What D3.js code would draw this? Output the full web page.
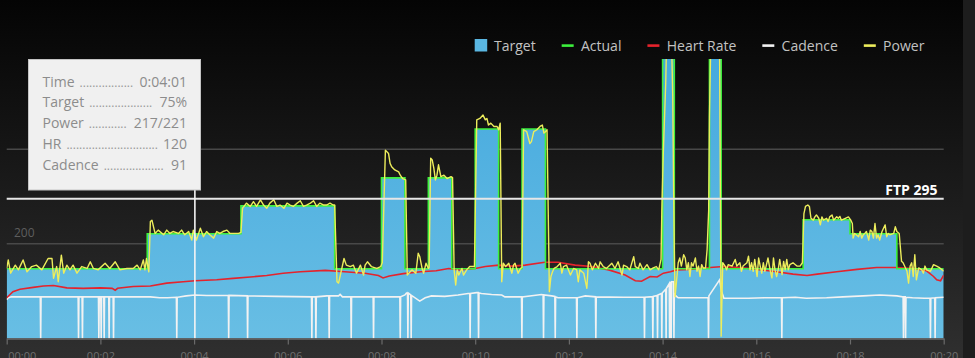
<!DOCTYPE html>
<html><head><meta charset="utf-8">
<script src="https://cdn.jsdelivr.net/npm/d3@7"></script>
<style>
html,body{margin:0;padding:0;background:#000;overflow:hidden;}
svg{display:block;}
</style></head>
<body>
<svg id="chart" width="975" height="358"></svg>
<script>
// ---------------- DATA ----------------
const ftp = 295;
const workoutEnd = 1200; // seconds
// target steps: start time (s) and % of FTP
const stepStart = [0,180,300,420,480,510,540,570,600,630,660,690,840,855,900,915,1020,1080,1140];
const stepPct   = [50,75,95,50,115,50,115,50,150,50,150,50,250,50,250,50,85,75,50];

// power [seconds, watts]
const power = [
[0,148],[2,166],[5,138],[11,155],[15,145],[21,166],[26,141],[32,152],[38,155],[45,145],[53,169],[58,169],[60,127],[64,152],[66,120],[70,176],[73,138],[77,155],[81,145],[85,155],[90,138],[96,152],[103,148],[107,162],[111,148],[117,145],[126,159],[132,148],[139,162],[145,145],[154,148],[162,148],[167,155],[171,145],[175,166],[177,145],[179,169],[182,141],
[184,247],[186,250],[190,222],[194,229],[201,219],[205,229],[209,222],[213,226],[220,222],[224,229],[228,219],[233,226],[237,208],[239,229],[243,208],[248,233],[252,215],[256,226],[260,219],[265,212],[269,226],[273,222],[277,226],[282,229],[286,222],[290,222],[297,222],[300,224],
[302,275],[307,286],[312,279],[316,289],[320,279],[325,293],[329,282],[333,275],[337,286],[342,293],[346,279],[350,282],[355,275],[359,286],[363,282],[367,279],[372,286],[376,291],[380,279],[384,282],[389,286],[393,291],[397,279],[401,286],[406,282],[410,282],[414,286],[418,282],[420,282],
[423,120],[425,117],[432,169],[435,155],[440,152],[444,155],[448,138],[453,155],[457,134],[459,155],[462,162],[467,152],[474,148],[479,152],[481,160],[485,398],[489,391],[491,370],[493,363],[497,356],[502,352],[504,345],[507,338],[511,335],
[513,134],[519,145],[524,138],[527,180],[529,173],[532,148],[534,138],[537,159],[540,148],[541,150],[543,381],[545,377],[547,360],[549,335],[551,345],[553,367],[556,342],[560,345],[564,338],[569,342],[571,340],
[573,145],[575,113],[577,145],[579,134],[583,148],[585,134],[589,145],[593,152],[599,152],[602,462],[606,465],[610,472],[613,462],[615,465],[617,451],[620,455],[624,448],[628,448],[630,441],[632,455],
[634,120],[636,159],[639,152],[643,159],[647,138],[649,155],[651,159],[655,138],[658,148],[660,150],[662,441],[666,437],[670,412],[672,416],[675,437],[679,441],[683,448],[686,451],[688,434],[690,437],[692,441],
[695,99],[697,131],[699,141],[701,148],[705,152],[709,159],[711,138],[713,152],[717,155],[722,134],[726,148],[730,145],[732,120],[734,145],[739,138],[743,106],[745,162],[747,159],[750,145],[754,159],[758,148],[760,162],[764,152],[768,148],[775,159],[779,148],[783,162],[788,134],[790,155],[794,152],[798,145],[803,173],[805,152],[809,148],[811,159],
[815,145],[820,156],[824,145],[828,149],[832,152],[835,145],[838,167],[839,271],[841,398],[844,539],[846,700],[850,690],[852,588],[853,511],[854,328],[855,188],[856,88],[858,124],[860,160],[862,170],[864,153],[867,177],[869,170],[871,145],[873,160],[875,131],[877,160],[879,153],[882,170],[884,142],[886,153],[888,131],[890,156],[892,149],[895,149],[897,188],[899,271],[900,469],[902,650],[907,700],[912,680],[913,600],[914,300],[915,5],[917,160],
[920,153],[922,145],[924,156],[929,153],[931,160],[933,167],[935,153],[939,160],[941,142],[943,153],[948,160],[950,174],[952,145],[954,160],[956,142],[958,167],[961,131],[963,170],[965,153],[967,138],[969,160],[971,142],[975,170],[978,142],[980,128],[982,170],[984,145],[986,131],[988,145],[990,167],[993,135],[995,163],[997,145],[999,167],[1001,145],[1003,156],[1007,160],[1012,153],[1016,153],[1019,160],
[1021,264],[1023,279],[1026,282],[1028,279],[1030,254],[1033,250],[1035,257],[1037,261],[1040,254],[1042,240],[1044,257],[1046,250],[1050,254],[1052,247],[1054,257],[1057,261],[1059,250],[1063,257],[1065,254],[1067,258],[1069,250],[1074,254],[1078,257],[1081,250],[1083,243],
[1084,212],[1086,222],[1091,215],[1093,226],[1095,212],[1097,219],[1099,222],[1101,226],[1104,208],[1106,229],[1108,226],[1110,212],[1112,243],[1114,212],[1116,219],[1118,208],[1121,226],[1125,240],[1127,215],[1129,222],[1131,219],[1136,222],[1138,236],[1140,226],[1143,222],
[1146,163],[1148,160],[1153,142],[1155,117],[1157,153],[1159,160],[1161,131],[1163,177],[1165,124],[1168,149],[1172,145],[1174,138],[1176,153],[1178,145],[1183,142],[1187,156],[1191,153],[1195,149],[1200,142]
];

// heart rate [seconds, bpm]
const heartRate = [
[0,86],[8,99],[17,104],[34,108],[47,111],[60,112],[77,107],[98,106],[120,107],[135,106],[139,102],[142,106],[162,110],[184,111],[205,117],[226,120],[241,122],[269,124],[290,127],[312,130],[333,133],[354,138],[376,141],[408,144],[433,141],[459,138],[476,133],[482,128],[490,132],[508,137],[530,141],[550,143],[566,148],[580,145],[600,148],[613,152],[630,155],[647,153],[664,155],[689,161],[706,161],[728,155],[749,152],[771,145],[792,134],[805,122],[813,121],[824,131],[833,130],[841,138],[850,141],[858,145],[875,146],[901,150],[918,152],[939,150],[961,146],[986,141],[1007,136],[1025,133],[1038,136],[1063,141],[1089,146],[1114,150],[1140,150],[1161,148],[1178,143],[1187,131],[1191,124],[1196,122],[1200,134]
];

// cadence [seconds, rpm]
const cadence = [
[0,82],[2,86],[6,88],
[43,88],[43.5,0],[44,88],[91.5,88],[92,0],[92.5,88],[96.5,88],[97,0],[97.5,88],
[117.5,88],[118,0],[118.5,88],[120.5,88],[121,0],[121.5,88],[124.3,88],[124.8,0],[125.3,88],
[130.7,88],[131.2,0],[131.7,88],[136.3,88],[136.8,0],[137.3,88],
[184,88],[196,86],[206,86],[217.3,87],[217.8,0],[218.3,87],[230,90],[241,92],[256,91],
[283.8,91],[284.3,0],[284.8,91],[308,90],[308.5,0],[309,90],[345,89],
[390.3,88],[390.8,0],[391.3,88],[395.5,88],[396,0],[396.5,88],[410,90],
[412.5,90],[413,0],[413.5,90],[425,90],[427,93],[430,88],
[440.7,88],[441.2,0],[441.7,88],[469.3,88],[469.8,0],[470.3,88],[503.5,88],[504,0],[504.5,88],
[510,92],[512,96],[513.3,96],[513.8,0],[514.3,96],[517.5,92],[518,0],[518.5,91],
[529,79],[536,86],[544,90],[561,89],[578,92],[591,95],[593,95],[593.5,0],[594,95],[602,97],
[603.8,97],[604.3,0],[604.8,96],[608,95],[621,93],[634,92],[638,88],
[659.3,88],[659.8,0],[660.3,88],[685,93],[687,92],[687.5,0],[688,92],[698,90],
[702,89],[702.5,0],[703,88],[706,86],[729.7,86],[730.2,0],[730.7,86],[741,90],
[754,88],[754.5,0],[755,88],[790,87],[816.3,87],[816.8,0],[817.3,87],[824,88],
[827,88],[827.5,0],[828,89],[833,91],[833.5,0],[834,92],[838.5,95],[839,0],[839.5,96],
[844,104],[844.5,0],[845,106],[848.5,116],[849,0],[849.5,118],[850.5,119],[851,0],[851.5,120],
[854,120],[854.5,0],[855,95],[857,90],[860,86],[896,86],
[898.3,86],[898.8,0],[899.3,90],[907,109],[913,124],[915.5,99],[918.5,85],[950,85],[970,86],
[992.2,86],[992.7,0],[993.2,86],[1010,87],[1024,85],[1050,86],[1071,88],[1097,90],[1118,92],[1140,90],
[1148,88],[1148.5,0],[1149,88],[1150.7,88],[1151.2,0],[1151.7,87],[1160,86],[1175,85],
[1182.5,85],[1183,0],[1183.5,85],[1188.5,86],[1189,0],[1189.5,86],[1200,87]
];

const xTickTimes  = [0,120,240,360,480,600,720,840,960,1080,1200];
const xTickLabels = ["00:00","00:02","00:04","00:06","00:08","00:10","00:12","00:14","00:16","00:18","00:20"];
const yGridValues = [200,400];
const yLabelValues = [200];

const legendNames  = ["Target","Actual","Heart Rate","Cadence","Power"];
const legendColors = ["#5ab7e2","#3cf03c","#e5232c","#f2f2f2","#eded5c"];

const hoverTime = 241;
const tooltipLabels = ["Time","Target","Power","HR","Cadence"];
const tooltipValues = ["0:04:01","75%","217/221","120","91"];

// ---------------- CHART ----------------
const W = 975, H = 358;
const FONT = "'Open Sans', 'DejaVu Sans', sans-serif";
const svg = d3.select("#chart");
const defs = svg.append("defs");

const bg = defs.append("linearGradient").attr("id","bg").attr("x1",0).attr("y1",0).attr("x2",0).attr("y2",1);
bg.append("stop").attr("offset","0%").attr("stop-color","#040404");
bg.append("stop").attr("offset","100%").attr("stop-color","#2f2f2f");
svg.append("rect").attr("width",W).attr("height",H).attr("fill","url(#bg)");
svg.append("rect").attr("x",963).attr("y",0).attr("width",12).attr("height",H).attr("fill","#1d1d1d");

const x = d3.scaleLinear().domain([0, workoutEnd]).range([6.7, 943.7]);
const y = d3.scaleLinear().domain([0, 600]).range([338.5, 54.5]);

const plotTop = 59, plotBottom = y(0);
defs.append("clipPath").attr("id","clip").append("rect")
  .attr("x", x(0)).attr("y", plotTop).attr("width", x(workoutEnd) - x(0)).attr("height", plotBottom - plotTop);

const fillGrad = defs.append("linearGradient").attr("id","fillGrad")
  .attr("gradientUnits","userSpaceOnUse").attr("x1",0).attr("x2",0).attr("y1",plotTop).attr("y2",plotBottom);
fillGrad.append("stop").attr("offset","0%").attr("stop-color","#45a9de");
fillGrad.append("stop").attr("offset","100%").attr("stop-color","#68bee4");

// gridlines
svg.append("g").selectAll("line").data(yGridValues).join("line")
  .attr("x1", x(0)).attr("x2", x(workoutEnd))
  .attr("y1", d => y(d)).attr("y2", d => y(d))
  .attr("stroke", "#484848").attr("stroke-width", 1.5);
svg.append("g").selectAll("text").data(yLabelValues).join("text")
  .attr("x", 14).attr("y", d => y(d) - 6.5)
  .attr("font-family", FONT).attr("font-size", 12).attr("fill", "#5e5e5e")
  .text(d => d);

const plot = svg.append("g").attr("clip-path","url(#clip)");

const targetPts = stepStart.map((s,i) => ({t: s, w: stepPct[i] * ftp / 100}));
targetPts.push({t: workoutEnd, w: stepPct[stepPct.length-1] * ftp / 100});

plot.append("path").datum(targetPts)
  .attr("d", d3.area().x(d => x(d.t)).y0(plotBottom).y1(d => y(d.w)).curve(d3.curveStepAfter))
  .attr("fill", "url(#fillGrad)");

// FTP line
svg.append("line").attr("x1", x(0)).attr("x2", x(workoutEnd))
  .attr("y1", y(ftp)).attr("y2", y(ftp))
  .attr("stroke", "#e6e6e6").attr("stroke-width", 2);

const line = d3.line().x(d => x(d[0])).y(d => y(d[1]));

plot.append("path").datum(cadence).attr("d", line)
  .attr("fill","none").attr("stroke", legendColors[3]).attr("stroke-width", 1.6);
plot.append("path").datum(heartRate).attr("d", line)
  .attr("fill","none").attr("stroke", legendColors[2]).attr("stroke-width", 1.6);
plot.append("path").datum(targetPts)
  .attr("d", d3.line().x(d => x(d.t)).y(d => y(d.w)).curve(d3.curveStepAfter))
  .attr("fill","none").attr("stroke", legendColors[1]).attr("stroke-width", 1.6);
plot.append("path").datum(power).attr("d", line)
  .attr("fill","none").attr("stroke", legendColors[4]).attr("stroke-width", 1.4).attr("stroke-linejoin","round");

// crosshair
svg.append("line").attr("x1", x(hoverTime)).attr("x2", x(hoverTime))
  .attr("y1", plotTop).attr("y2", plotBottom)
  .attr("stroke", "#f4f4f4").attr("stroke-width", 1.6);

// x axis
const xAxis = d3.axisBottom(x).tickValues(xTickTimes)
  .tickFormat((d,i) => xTickLabels[i]).tickSize(6).tickSizeOuter(0).tickPadding(8);
const gx = svg.append("g").attr("transform", `translate(0,${plotBottom})`).call(xAxis);
gx.select(".domain").attr("stroke", "#6a6a6a").attr("stroke-width", 1.6);
gx.selectAll(".tick line").attr("stroke", "#6a6a6a").attr("stroke-width", 1.2);
gx.selectAll(".tick text").attr("fill", "#6e6e6e").attr("font-family", FONT).attr("font-size", 11);
gx.selectAll(".tick text").filter((d,i) => i === 0).attr("text-anchor","start").attr("x", 1);

// tooltip
const tip = svg.append("g");
tip.append("rect").attr("x", 28.5).attr("y", 59.5).attr("width", 172).attr("height", 130.5)
  .attr("fill", "#f0f0f0").attr("stroke", "#c4c4c4").attr("stroke-width", 1);
const tmp = svg.append("text").attr("font-family", FONT).attr("font-size", 12).text("..........");
const dotW = tmp.node().getComputedTextLength() / 10;
tmp.remove();
tooltipLabels.forEach((lab, i) => {
  const by = 86.6 + i * 20.8;
  const lt = tip.append("text").attr("x", 42.5).attr("y", by)
    .attr("font-family", FONT).attr("font-size", 14).attr("fill", "#8c8c8c").text(lab);
  const vt = tip.append("text").attr("x", 187).attr("y", by).attr("text-anchor","end")
    .attr("font-family", FONT).attr("font-size", 14).attr("fill", "#8c8c8c").text(tooltipValues[i]);
  const s = 42.5 + lt.node().getComputedTextLength() + 5;
  const e = 187 - vt.node().getComputedTextLength() - 5;
  const n = Math.max(0, Math.floor((e - s) / dotW));
  tip.append("text").attr("x", s).attr("y", by)
    .attr("font-family", FONT).attr("font-size", 12).attr("fill", "#9a9a9a").text(".".repeat(n));
});

// FTP label
svg.append("text").attr("x", 937.5).attr("y", 195).attr("text-anchor","end")
  .attr("font-family", FONT).attr("font-size", 14).attr("font-weight", "bold").attr("fill", "#ffffff")
  .text("FTP " + ftp);

// legend
const leg = svg.append("g");
let cx = 474.7;
legendNames.forEach((name, i) => {
  if (i === 0) {
    leg.append("rect").attr("x", cx).attr("y", 39).attr("width", 12.5).attr("height", 12.5).attr("fill", legendColors[i]);
  } else {
    leg.append("rect").attr("x", cx).attr("y", 44.3).attr("width", 12).attr("height", 2.6).attr("fill", legendColors[i]);
  }
  const t = leg.append("text").attr("x", cx + 19.3).attr("y", 50.5)
    .attr("font-family", FONT).attr("font-size", 14).attr("fill", "#c2c2c2").text(name);
  cx = cx + 19.3 + t.node().getComputedTextLength() + 26;
});
</script>
</body></html>
